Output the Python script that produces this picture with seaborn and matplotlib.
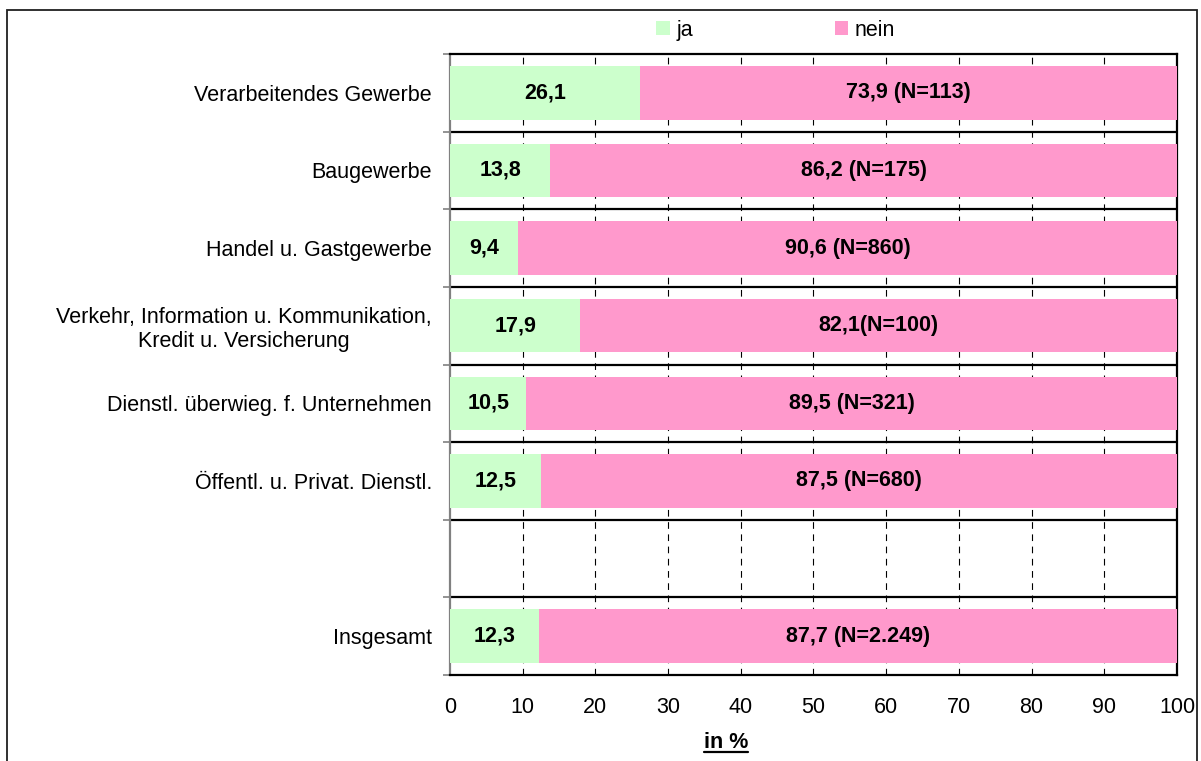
import matplotlib
matplotlib.use("Agg")
import matplotlib.pyplot as plt
import seaborn as sns
import pandas as pd
import numpy as np
from matplotlib.lines import Line2D
from matplotlib.patches import Rectangle, Patch

categories = [
    "Verarbeitendes Gewerbe",
    "Baugewerbe",
    "Handel u. Gastgewerbe",
    "Verkehr, Information u. Kommunikation,\nKredit u. Versicherung",
    "Dienstl. überwieg. f. Unternehmen",
    "Öffentl. u. Privat. Dienstl.",
    " ",
    "Insgesamt",
]
ja = [26.1, 13.8, 9.4, 17.9, 10.5, 12.5, 0.0, 12.3]
nein = [73.9, 86.2, 90.6, 82.1, 89.5, 87.5, 0.0, 87.7]
n_obs = ["113", "175", "860", "100", "321", "680", "", "2.249"]
x_ticks = [0, 10, 20, 30, 40, 50, 60, 70, 80, 90, 100]

GREEN = "#CCFFCC"
PINK = "#FF99CC"
FS = 15.5

sns.set_theme(style="white")
plt.rcParams["font.family"] = ["Liberation Sans", "DejaVu Sans"]
plt.rcParams["text.color"] = "black"
plt.rcParams["xtick.color"] = "black"
plt.rcParams["ytick.color"] = "black"

df = pd.DataFrame({"Branche": categories, "ja": ja, "nein": nein})
df["gesamt"] = df["ja"] + df["nein"]

fig = plt.figure(figsize=(12.01, 7.61), dpi=100)
ax = fig.add_axes([0.3747, 0.113, 0.6053, 0.816])

# stacked bars: full length in pink, "ja" share in green on top
sns.barplot(data=df, y="Branche", x="gesamt", order=categories, color=PINK,
            width=0.69, saturation=1, ax=ax, zorder=3, linewidth=0)
sns.barplot(data=df, y="Branche", x="ja", order=categories, color=GREEN,
            width=0.69, saturation=1, ax=ax, zorder=4, linewidth=0)

ax.set_xlim(0, 100)
ax.set_ylim(len(categories) - 0.5, -0.5)
ax.set_xticks(x_ticks)
ax.set_xticklabels([str(t) for t in x_ticks], fontsize=FS, color="black")
ax.tick_params(axis="x", length=0, pad=16)

# category labels, tick marks on the row boundaries
ax.set_yticks(range(len(categories)))
ax.set_yticklabels(categories, fontsize=FS, color="black", ha="right",
                   multialignment="center")
ax.tick_params(axis="y", which="major", left=False, length=0, pad=13)
ax.set_yticks(np.arange(-0.5, len(categories)), minor=True)
ax.tick_params(axis="y", which="minor", left=True, length=5, color="#808080",
               width=1.2)
ax.set_ylabel("")
ax.set_xlabel("")

# grid: dashed verticals, solid row separators
for t in x_ticks[1:-1]:
    ax.axvline(t, color="black", lw=0.8, ls=(0, (6, 5)), zorder=1)
for b in np.arange(0.5, len(categories) - 1):
    ax.axhline(b, color="black", lw=1.6, zorder=2)

for side in ["top", "bottom", "right"]:
    ax.spines[side].set_visible(True)
    ax.spines[side].set_color("black")
    ax.spines[side].set_linewidth(1.6)
ax.spines["left"].set_color("#808080")
ax.spines["left"].set_linewidth(1.6)

# value labels
for i, (j, n, nn) in enumerate(zip(ja, nein, n_obs)):
    if not nn:
        continue
    ax.text(j / 2, i, f"{j:.1f}".replace(".", ","), ha="center", va="center",
            fontsize=FS, fontweight="bold", color="black", zorder=5)
    sep = "" if i == 3 else " "
    ax.text(j + n / 2, i, f"{n:.1f}".replace(".", ",") + f"{sep}(N={nn})",
            ha="center", va="center", fontsize=FS, fontweight="bold",
            color="black", zorder=5)

# legend
handles = [Patch(facecolor=GREEN, edgecolor="none", label="ja"),
           Patch(facecolor=PINK, edgecolor="none", label="nein")]
fig.legend(handles=handles, loc="upper left", bbox_to_anchor=(0.534, 0.994),
           ncol=2, frameon=False, fontsize=FS, handlelength=0.62,
           handleheight=0.62, handletextpad=0.3, columnspacing=6.6,
           borderaxespad=0.3)

# axis title, bold and underlined
xl = fig.text(0.6047, 0.011, "in %", ha="center", va="bottom", fontsize=FS,
              fontweight="bold")
fig.canvas.draw()
bb = xl.get_window_extent().transformed(fig.transFigure.inverted())
fig.add_artist(Line2D([bb.x0, bb.x1], [bb.y0 + 0.001, bb.y0 + 0.001],
                      transform=fig.transFigure, color="black", lw=1.6))

# outer frame
fig.add_artist(Rectangle((0.0058, -0.02), 0.9909, 1.0069, transform=fig.transFigure,
                         fill=False, edgecolor="#202020", lw=1.3))

fig.savefig("out.png", dpi=100)
